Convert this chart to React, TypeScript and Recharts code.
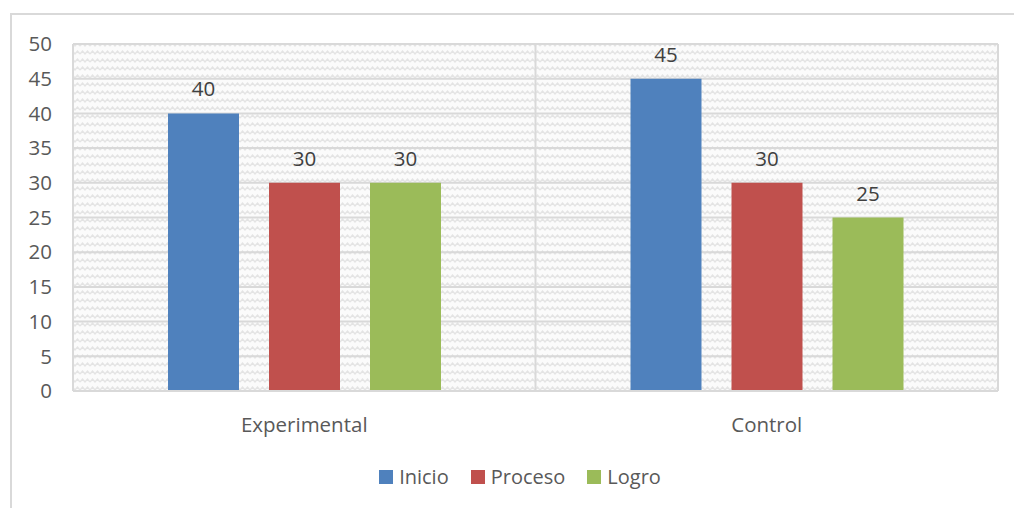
import { BarChart, Bar, XAxis, YAxis, CartesianGrid, Legend, LabelList } from 'recharts'

const groups = ['Experimental', 'Control']
const inicio = [40, 45]
const proceso = [30, 30]
const logro = [30, 25]
const yTicks = [0, 5, 10, 15, 20, 25, 30, 35, 40, 45, 50]

const SERIES = [
  { key: 'Inicio', color: '#4f81bd', values: inicio },
  { key: 'Proceso', color: '#c0504d', values: proceso },
  { key: 'Logro', color: '#9bbb59', values: logro },
]

const data = groups.map((g, i) => ({
  name: g,
  Inicio: inicio[i],
  Proceso: proceso[i],
  Logro: logro[i],
}))

const FONT = '"Open Sans", Lato, sans-serif'
const GRID = '#d9d9d9'

function LegendBox() {
  return (
    <div style={{ display: 'flex', justifyContent: 'center', gap: 22, fontFamily: FONT, fontSize: 20, color: '#595959' }}>
      {SERIES.map(s => (
        <div key={s.key} style={{ display: 'flex', alignItems: 'center', gap: 6 }}>
          <span style={{ width: 14, height: 14, background: s.color, display: 'inline-block' }} />
          <span>{s.key}</span>
        </div>
      ))}
    </div>
  )
}

export default function App() {
  return (
    <div style={{ position: 'absolute', left: 0, top: 0, width: 1014, height: 508, background: '#fff' }}>
      <div style={{ position: 'absolute', left: 10, top: 13, right: 0, bottom: -4, borderLeft: `2px solid ${GRID}`, borderTop: `2px solid ${GRID}` }} />
      <BarChart
        width={1014}
        height={508}
        data={data}
        margin={{ top: 44, right: 16, bottom: 77, left: 0 }}
        barGap={30}
        barSize={71}
        style={{ position: 'absolute', left: 0, top: 0 }}
      >
        <defs>
          <pattern id="zig" width="10" height="8" patternUnits="userSpaceOnUse">
            <rect width="10" height="8" fill="#fbfbfb" />
            <polyline points="0,6 2.5,3 5,6 7.5,3 10,6" fill="none" stroke="#e4e4e4" strokeWidth="1.4" />
          </pattern>
        </defs>
        <CartesianGrid
          fill="url(#zig)"
          stroke={GRID}
          strokeWidth={2}
          verticalCoordinatesGenerator={({ offset }: any) => [offset.left, offset.left + offset.width / 2, offset.left + offset.width]}
        />
        <XAxis
          dataKey="name"
          height={40}
          tickLine={false}
          axisLine={{ stroke: GRID, strokeWidth: 2 }}
          tick={{ fill: '#595959', fontSize: 20.5, fontFamily: FONT }}
          tickMargin={20}
        />
        <YAxis
          width={73}
          domain={[0, 50]}
          ticks={yTicks}
          interval={0}
          axisLine={false}
          tickLine={false}
          tickMargin={15}
          tick={{ fill: '#595959', fontSize: 20.5, fontFamily: FONT }}
        />
        <Legend verticalAlign="middle" layout="horizontal" wrapperStyle={{ top: 463, left: 0, width: 1040 }} content={<LegendBox />} />
        {SERIES.map(s => (
          <Bar key={s.key} dataKey={s.key} fill={s.color} isAnimationActive={false}>
            <LabelList dataKey={s.key} position="top" offset={17} fill="#404040" fontSize={20.5} fontFamily={FONT} />
          </Bar>
        ))}
      </BarChart>
    </div>
  )
}
